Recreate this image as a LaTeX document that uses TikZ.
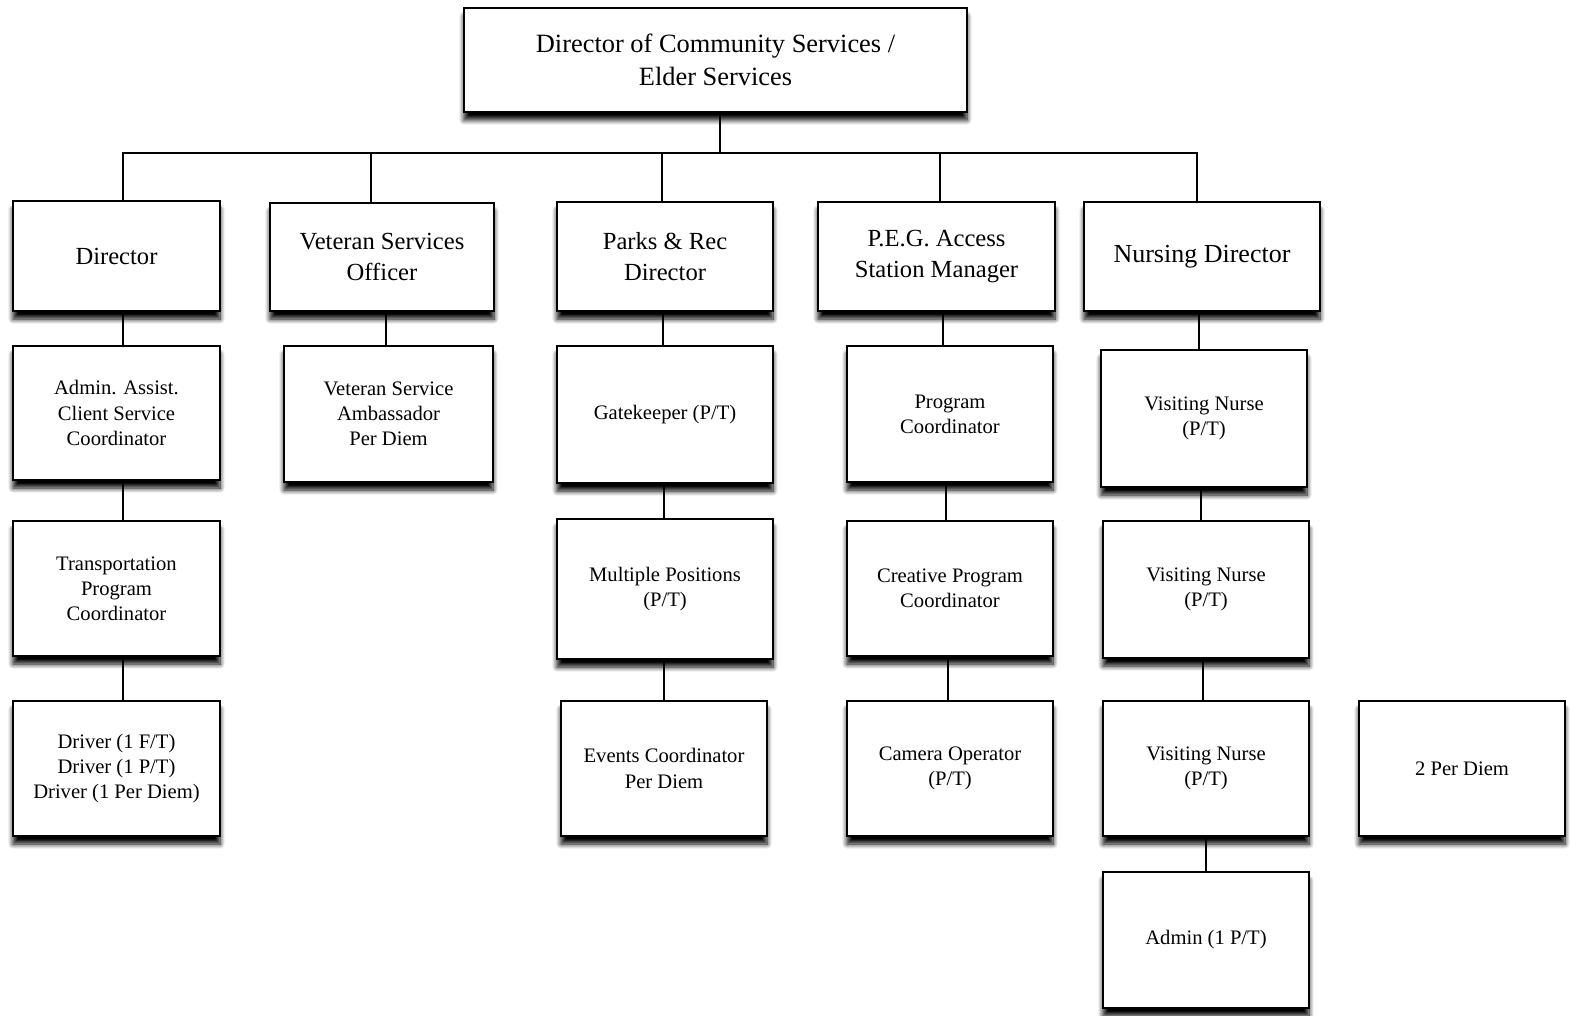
\documentclass[tikz,border=0pt]{standalone}
\usepackage{fontspec}
\setmainfont{Liberation Serif}
\usetikzlibrary{shadows.blur}

\tikzset{
  orgbox/.style={draw, line width=1pt, fill=white, align=center, inner sep=2pt,
    blur shadow={shadow xshift=0pt, shadow yshift=-4pt, shadow blur radius=2.5pt,
      shadow blur extra rounding=0pt, shadow opacity=100, shadow blur steps=8},
    font=\fontsize{10.3}{12.6}\selectfont},
  headbox/.style={orgbox, font=\fontsize{12.3}{15.5}\selectfont},
  link/.style={line width=1pt}
}

\begin{document}
\begin{tikzpicture}[x=0.5pt, y=-0.5pt]

        \useasboundingbox (0,0) rectangle (1570,1016);

        % top

        \node[orgbox, minimum width=251.5pt, minimum height=52pt, font=\fontsize{13.2}{16.5}\selectfont] (top) at (715.5,60) {Director of Community Services /\\Elder Services};

        % first row

        \node[headbox, minimum width=103.5pt, minimum height=55pt] (dir) at (116.5,256) {Director};
        \node[headbox, minimum width=112pt, minimum height=54pt] (vso) at (382,257) {Veteran Services\\Officer};
        \node[headbox, minimum width=108pt, minimum height=54.5pt] (parks) at (665,256.5) {Parks \& Rec\\Director};
        \node[headbox, minimum width=118.5pt, minimum height=54.5pt] (peg) at (936.5,256.5) {P.E.G. Access\\Station Manager};
        \node[headbox, minimum width=118pt, minimum height=54.5pt, font=\fontsize{13}{16}\selectfont] (nurse) at (1202,256.5) {Nursing Director};

        % second row

        \node[orgbox, minimum width=103.5pt, minimum height=67pt] (admin) at (116.5,413) {Admin. Assist.\\Client Service\\Coordinator};
        \node[orgbox, minimum width=104.5pt, minimum height=68pt] (amb) at (388.5,414) {Veteran Service\\Ambassador\\Per Diem};
        \node[orgbox, minimum width=108pt, minimum height=68.5pt] (gate) at (665,414.5) {Gatekeeper (P/T)};
        \node[orgbox, minimum width=103pt, minimum height=68pt] (prog) at (950,414) {Program\\Coordinator};
        \node[orgbox, minimum width=103pt, minimum height=68.5pt] (vnA) at (1204,418.5) {Visiting Nurse\\(P/T)};

        % third row

        \node[orgbox, minimum width=103.5pt, minimum height=67.5pt] (trans) at (116.5,588.5) {Transportation\\Program\\Coordinator};
        \node[orgbox, minimum width=108pt, minimum height=70pt] (multi) at (665,589) {Multiple Positions\\(P/T)};
        \node[orgbox, minimum width=103pt, minimum height=67.5pt] (creat) at (950,588.5) {Creative Program\\Coordinator};
        \node[orgbox, minimum width=103pt, minimum height=68.5pt] (vnB) at (1206,589.5) {Visiting Nurse\\(P/T)};

        % fourth row

        \node[orgbox, minimum width=103.5pt, minimum height=67.5pt] (driver) at (116.5,768.5) {Driver (1 F/T)\\Driver (1 P/T)\\Driver (1 Per Diem)};
        \node[orgbox, minimum width=103pt, minimum height=67.5pt] (events) at (664,768.5) {Events Coordinator\\Per Diem};
        \node[orgbox, minimum width=103pt, minimum height=67.5pt] (camera) at (950,768.5) {Camera Operator\\(P/T)};
        \node[orgbox, minimum width=103pt, minimum height=67.5pt] (vnC) at (1206,768.5) {Visiting Nurse\\(P/T)};
        \node[orgbox, minimum width=103pt, minimum height=67.5pt] (perdiem) at (1462,768.5) {2 Per Diem};

        % fifth row

        \node[orgbox, minimum width=103pt, minimum height=68pt] (adm) at (1206,940) {Admin (1 P/T)};

        % bus

        \coordinate (bus) at (720,153);
        \draw[link] (top.south -| bus) -- (bus);
        \draw[link] (dir.north -| 123,0) |- (bus) -| (nurse.north -| 1197,0);
        \draw[link] (vso.north -| 371,0) -- (bus -| 371,0);
        \draw[link] (parks.north -| 662,0) -- (bus -| 662,0);
        \draw[link] (peg.north -| 940,0) -- (bus -| 940,0);

        % columns

        \draw[link] (dir.south -| 123,0) -- (admin.north -| 123,0);
        \draw[link] (admin.south -| 123,0) -- (trans.north -| 123,0);
        \draw[link] (trans.south -| 123,0) -- (driver.north -| 123,0);

        \draw[link] (vso.south -| 386,0) -- (amb.north -| 386,0);

        \draw[link] (parks.south -| 663,0) -- (gate.north -| 663,0);
        \draw[link] (gate.south -| 664,0) -- (multi.north -| 664,0);
        \draw[link] (multi.south -| 664,0) -- (events.north -| 664,0);

        \draw[link] (peg.south -| 943,0) -- (prog.north -| 943,0);
        \draw[link] (prog.south -| 946,0) -- (creat.north -| 946,0);
        \draw[link] (creat.south -| 948,0) -- (camera.north -| 948,0);

        \draw[link] (nurse.south -| 1199,0) -- (vnA.north -| 1199,0);
        \draw[link] (vnA.south -| 1201,0) -- (vnB.north -| 1201,0);
        \draw[link] (vnB.south -| 1203,0) -- (vnC.north -| 1203,0);
        \draw[link] (vnC.south -| 1206,0) -- (adm.north -| 1206,0);

    \end{tikzpicture}
\end{document}
